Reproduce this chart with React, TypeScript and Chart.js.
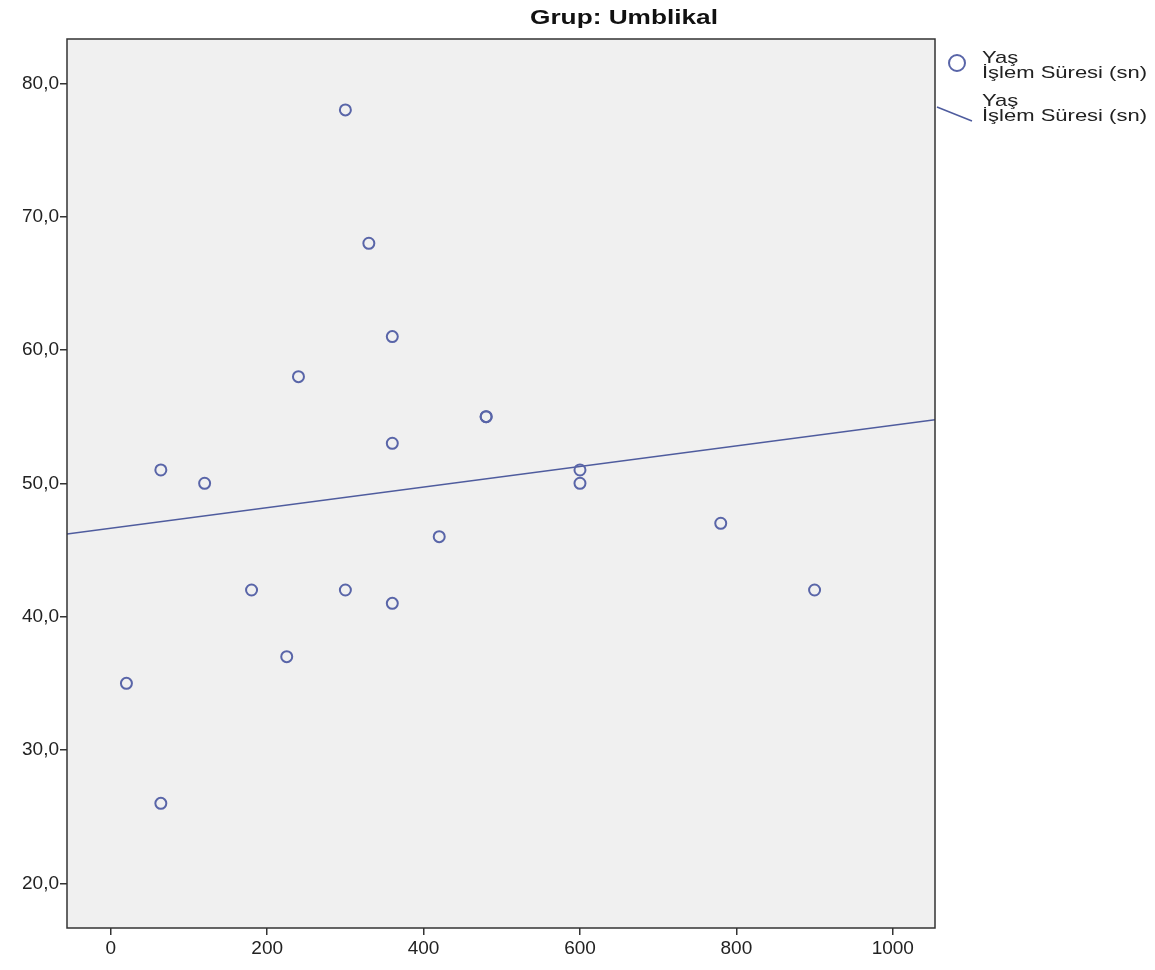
import React, { useEffect, useRef } from "react";
import { Chart, registerables } from "chart.js";

Chart.register(...registerables);

// Data
const durations = [20, 64, 64, 120, 180, 225, 240, 300, 300, 330, 360, 360, 360, 420, 480, 480, 600, 600, 780, 900];
const ages = [35, 26, 51, 50, 42, 37, 58, 78, 42, 68, 61, 53, 41, 46, 55, 55, 51, 50, 47, 42];
const xTicks = [0, 200, 400, 600, 800, 1000];
const yTicks = [20, 30, 40, 50, 60, 70, 80];
const xRange = [-56, 1054];
const yRange = [16.65, 83.32];
const titleText = "Grup: Umblikal";
const legendLines = ["Yaş", "İşlem Süresi (sn)"];

const FONT = "'Liberation Sans', Arial, sans-serif";
const MARK = "#5965a8";
const LINE = "#4f5c9e";

function fitLine(xs: number[], ys: number[]) {
  const n = xs.length;
  const mx = xs.reduce((a, b) => a + b, 0) / n;
  const my = ys.reduce((a, b) => a + b, 0) / n;
  let sxy = 0, sxx = 0;
  for (let i = 0; i < n; i++) {
    sxy += (xs[i] - mx) * (ys[i] - my);
    sxx += (xs[i] - mx) * (xs[i] - mx);
  }
  const b = sxy / sxx;
  const a = my - b * mx;
  return { a, b };
}

export default function App() {
  const ref = useRef<HTMLCanvasElement | null>(null);
  useEffect(() => {
    if (!ref.current) return;
    const { a, b } = fitLine(durations, ages);
    const points = durations.map((x, i) => ({ x, y: ages[i] }));
    const linePts = xRange.map((x) => ({ x, y: a + b * x }));

    const decor = {
      id: "decor",
      beforeDatasetsDraw(chart: any) {
        const { ctx, chartArea: c } = chart;
        ctx.save();
        ctx.fillStyle = "#f0f0f0";
        ctx.fillRect(c.left, c.top, c.right - c.left, c.bottom - c.top);
        ctx.restore();
      },
      afterDraw(chart: any) {
        const { ctx, chartArea: c } = chart;
        ctx.save();
        ctx.strokeStyle = "#333333";
        ctx.lineWidth = 1.5;
        ctx.strokeRect(c.left, c.top, c.right - c.left, c.bottom - c.top);

        // title
        ctx.fillStyle = "#111111";
        ctx.font = "bold 21px " + FONT;
        ctx.textBaseline = "alphabetic";
        ctx.textAlign = "left";
        const tw = ctx.measureText(titleText).width;
        const tsx = 188 / tw;
        ctx.save();
        ctx.translate(530, 24);
        ctx.scale(tsx, 1);
        ctx.fillText(titleText, 0, 0);
        ctx.restore();

        // legend
        ctx.font = "17px " + FONT;
        ctx.fillStyle = "#222222";
        const lw = ctx.measureText(legendLines[1]).width;
        const lsx = 165 / lw;
        const drawLines = (x: number, y0: number) => {
          legendLines.forEach((t, i) => {
            ctx.save();
            ctx.translate(x, y0 + i * 14.5);
            ctx.scale(lsx, 1);
            ctx.fillText(t, 0, 0);
            ctx.restore();
          });
        };
        ctx.strokeStyle = MARK;
        ctx.lineWidth = 2;
        ctx.beginPath();
        ctx.arc(957, 63, 8, 0, Math.PI * 2);
        ctx.stroke();
        drawLines(982, 63);
        ctx.strokeStyle = LINE;
        ctx.lineWidth = 1.5;
        ctx.beginPath();
        ctx.moveTo(937, 107);
        ctx.lineTo(972, 121);
        ctx.stroke();
        drawLines(982, 106);
        ctx.restore();
      },
    };

    const chart = new Chart(ref.current, {
      type: "scatter",
      data: {
        datasets: [
          {
            type: "scatter",
            label: "Yaş",
            data: points,
            pointStyle: "circle",
            pointRadius: 5.5,
            borderWidth: 2,
            borderColor: MARK,
            backgroundColor: "rgba(0,0,0,0)",
          } as any,
          {
            type: "line",
            label: "Fit",
            data: linePts,
            borderColor: LINE,
            borderWidth: 1.5,
            pointRadius: 0,
            fill: false,
          } as any,
        ],
      },
      options: {
        animation: false,
        responsive: false,
        maintainAspectRatio: false,
        layout: { padding: { top: 39, right: 220, left: 0, bottom: 0 } },
        plugins: { legend: { display: false }, tooltip: { enabled: false }, title: { display: false } },
        scales: {
          x: {
            type: "linear",
            min: xRange[0],
            max: xRange[1],
            afterBuildTicks: (s: any) => { s.ticks = xTicks.map((v) => ({ value: v })); },
            afterFit: (s: any) => { s.height = 42; },
            border: { display: false },
            grid: { drawOnChartArea: false, drawTicks: true, tickLength: 7, color: "#333333", lineWidth: 1.5 },
            ticks: { color: "#222222", font: { family: FONT, size: 19 }, padding: 2, callback: (v: any) => String(v) },
          },
          y: {
            type: "linear",
            min: yRange[0],
            max: yRange[1],
            afterBuildTicks: (s: any) => { s.ticks = yTicks.map((v) => ({ value: v })); },
            afterFit: (s: any) => { s.width = 67; },
            border: { display: false },
            grid: { drawOnChartArea: false, drawTicks: true, tickLength: 7, color: "#333333", lineWidth: 1.5 },
            ticks: { color: "#222222", font: { family: FONT, size: 19 }, padding: 1, callback: (v: any) => Number(v).toFixed(1).replace(".", ",") },
          },
        },
      },
      plugins: [decor],
    } as any);
    return () => chart.destroy();
  }, []);

  return (
    <div style={{ position: "absolute", left: 0, top: 0, width: 1155, height: 970, background: "#ffffff" }}>
      <canvas ref={ref} width={1155} height={970} style={{ display: "block" }} />
    </div>
  );
}
